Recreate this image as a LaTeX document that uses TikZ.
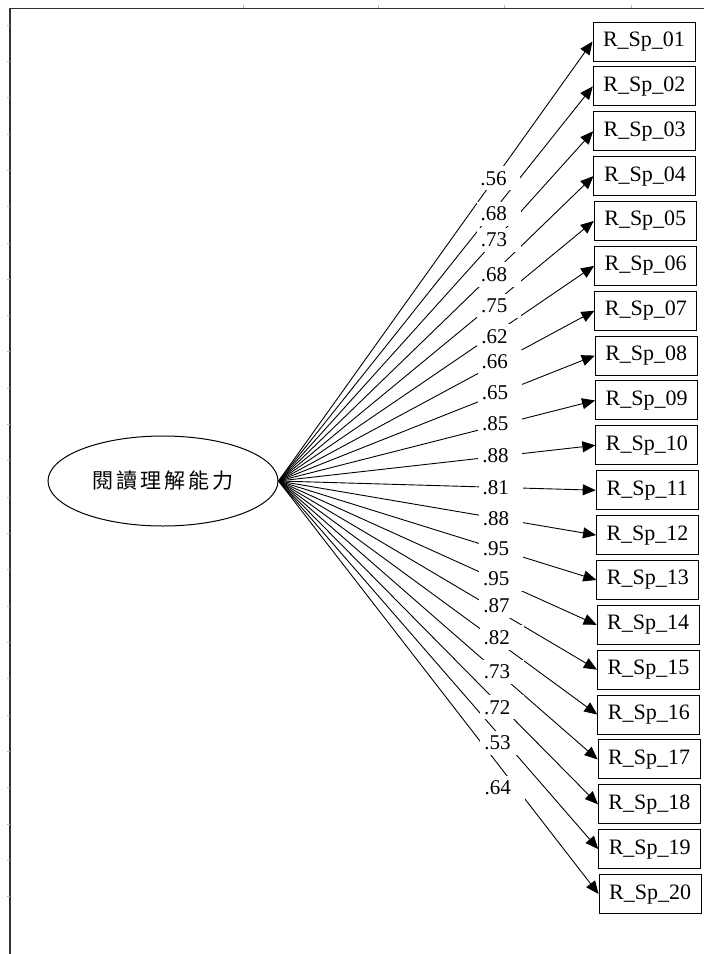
\documentclass[tikz,border=0pt]{standalone}
\usepackage{fontspec}
\setmainfont{Liberation Serif}
\newfontfamily\cjk[LetterSpace=15]{Noto Sans CJK TC}
\usetikzlibrary{arrows.meta, shapes.geometric, calc}

\begin{document}
\begin{tikzpicture}[x=1pt, y=-1pt,
    latent/.style={draw, ellipse, line width=1pt, minimum width=230pt, minimum height=90pt, inner sep=0pt},
    obsbox/.style={draw, line width=1pt, minimum width=102pt, minimum height=39pt, inner sep=0pt,
      font=\fontsize{22}{26}\selectfont},
    load/.style={line width=0.9pt, -{Triangle[length=13pt, width=11pt]}},
    coef/.style={fill=white, text width=36pt, align=left, inner xsep=4pt, inner ysep=5pt,
      font=\fontsize{21}{24}\selectfont},
    tick/.style={gray!55, line width=0.8pt}]
    \useasboundingbox (0,0) rectangle (704,954);
    % Rahmen
    \draw[line width=1.3pt, black!80] (704,8.7) -- (10,8.7) -- (10,954);
    \foreach \t in {243,378,504,631} \draw[tick] (\t,4.5) -- (\t,8);
    \foreach \k in {0,...,24} \draw[tick] (6.5,25+36.32*\k) -- (9.5,25+36.32*\k);
    % Faktor
    \node[latent] (lv) at (163,481) {\cjk\fontsize{21}{24}\selectfont 閱讀理解能力};
    % Indikatoren
    \foreach \i in {1,...,20} {
      \pgfmathsetmacro\yy{41.5+44.87*(\i-1)}
      \pgfmathsetmacro\xx{644+0.32*(\i-1)}
      \node[obsbox] (r\i) at (\xx,\yy) {R\_Sp\_\ifnum\i<10 0\fi\i};
      \draw[load] (lv.east) -- (r\i.west);
    }
    % Ladungen
    \foreach \i/\w/\dy in {1/.56/-5, 2/.68/-9, 3/.73/-4, 4/.68/-7, 5/.75/-7,
        6/.62/-6, 7/.66/0, 8/.65/1, 9/.85/1, 10/.88/0,
        11/.81/0, 12/.88/0, 13/.95/2, 14/.95/3, 15/.87/7,
        16/.82/7, 17/.73/4, 18/.72/0, 19/.53/-4, 20/.64/-18}
      \path (lv.east) -- (r\i.west) node[coef, pos=0.70, yshift=\dy pt] (c\i) {\w};
\end{tikzpicture}
\end{document}
